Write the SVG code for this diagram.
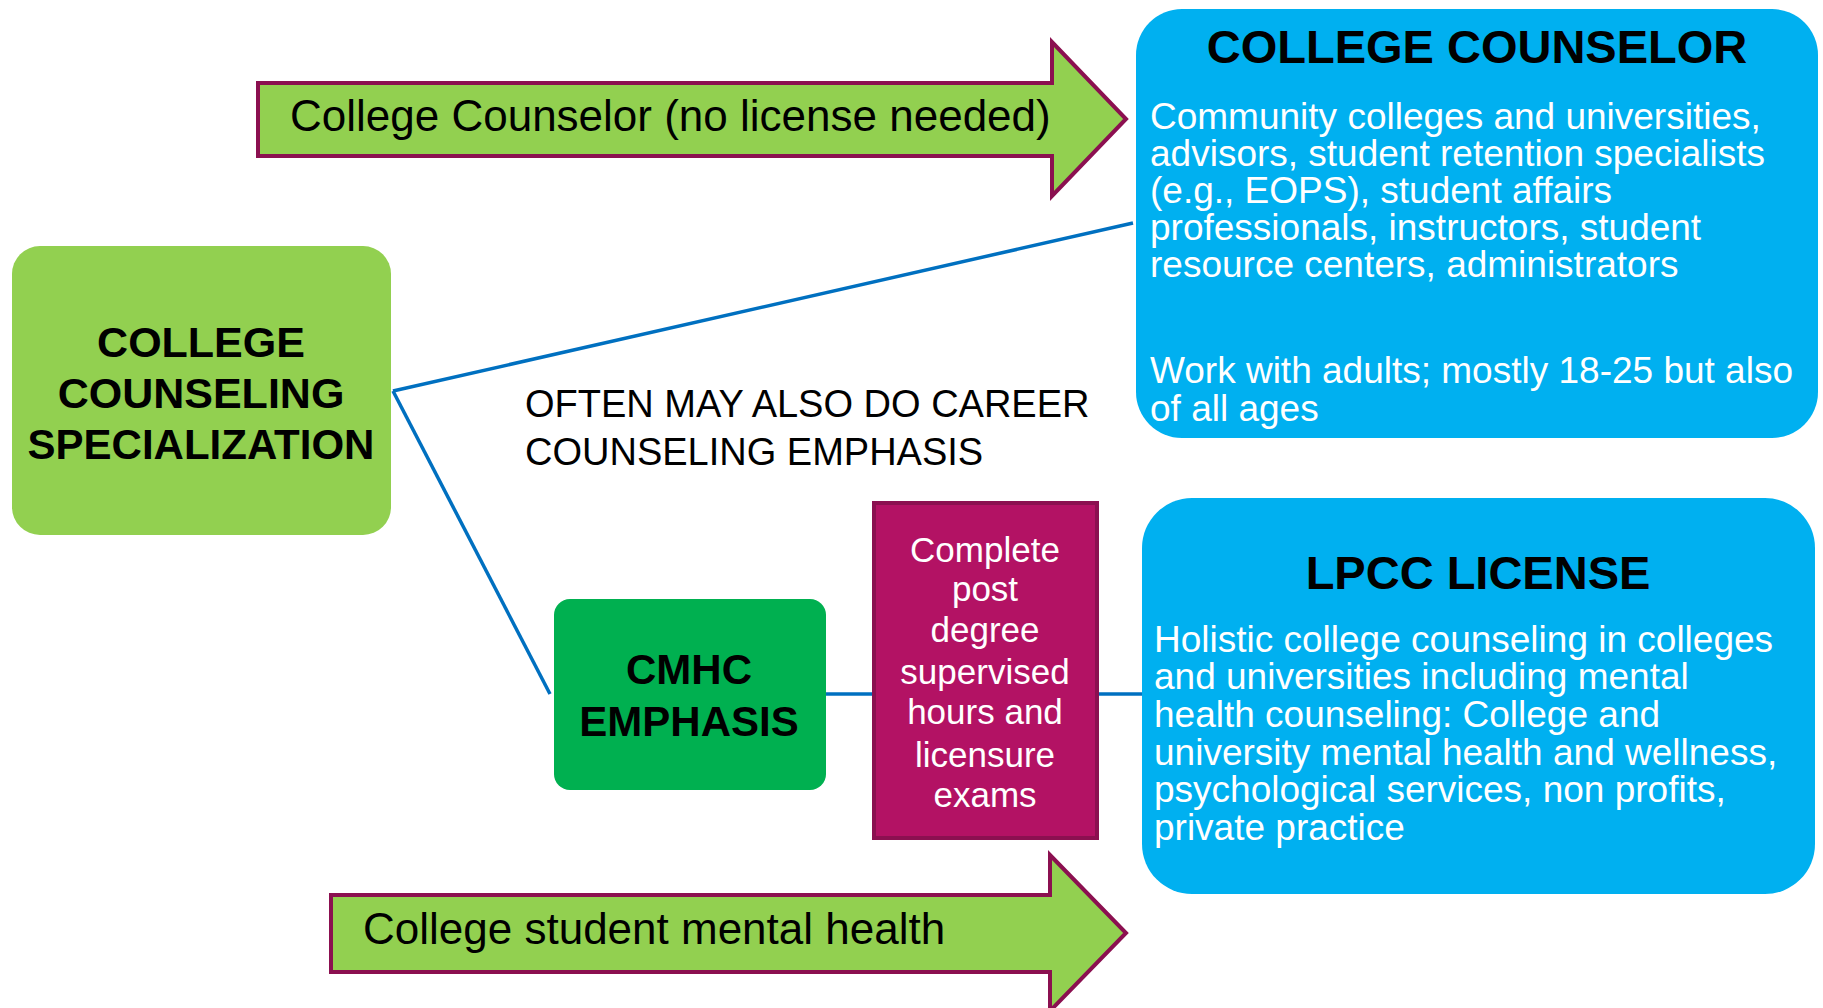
<svg xmlns="http://www.w3.org/2000/svg" width="1823" height="1008" viewBox="0 0 1823 1008">
<style>
  text { font-family: "Liberation Sans", Arial, sans-serif; }
  .arrow { fill: #92D050; stroke: #8B1050; stroke-width: 4; }
  .conn { stroke: #0070C0; stroke-width: 3.5; fill: none; }
  .blue { fill: #00B0F0; }
  .title { font-weight: bold; fill: #000; text-anchor: middle; }
  .body { fill: #fff; font-size: 37px; }
  .arrtxt { fill: #000; font-size: 44px; }
  .white { fill: #fff; font-size: 35px; text-anchor: middle; }
</style>
<rect width="1823" height="1008" fill="#fff"/>
<g id="connectors">
  <line class="conn" x1="393" y1="391" x2="1133" y2="223"/>
  <line class="conn" x1="393" y1="391" x2="550" y2="694"/>
  <line class="conn" x1="825" y1="694" x2="874" y2="694"/>
  <line class="conn" x1="1097" y1="694" x2="1143" y2="694"/>
</g>
<g id="arrow-top">
  <polygon class="arrow" points="258,83 1052,83 1052,42 1126,119 1052,196 1052,156 258,156"/>
  <text class="arrtxt" x="290" y="131">College Counselor (no license needed)</text>
</g>
<g id="arrow-bottom">
  <polygon class="arrow" points="331,895 1050,895 1050,855 1126,933 1050,1011 1050,972 331,972"/>
  <text class="arrtxt" x="363" y="944">College student mental health</text>
</g>
<g id="college-counselor">
  <rect class="blue" x="1136" y="9" width="682" height="429" rx="46"/>
  <text class="title" x="1477" y="63" font-size="47">COLLEGE COUNSELOR</text>
  <text class="body" x="1150" y="129">Community colleges and universities,</text>
  <text class="body" x="1150" y="166">advisors, student retention specialists</text>
  <text class="body" x="1150" y="203">(e.g., EOPS), student affairs</text>
  <text class="body" x="1150" y="240">professionals, instructors, student</text>
  <text class="body" x="1150" y="277">resource centers, administrators</text>
  <text class="body" x="1150" y="383">Work with adults; mostly 18-25 but also</text>
  <text class="body" x="1150" y="421">of all ages</text>
</g>
<g id="specialization">
  <rect x="12" y="246" width="379" height="289" rx="28" fill="#92D050"/>
  <text class="title" x="201" y="357" font-size="43">COLLEGE</text>
  <text class="title" x="201" y="408" font-size="43">COUNSELING</text>
  <text class="title" x="201" y="459" font-size="42">SPECIALIZATION</text>
</g>
<g id="career-note">
  <text x="525" y="417" font-size="38" fill="#000">OFTEN MAY ALSO DO CAREER</text>
  <text x="525" y="465" font-size="38" fill="#000">COUNSELING EMPHASIS</text>
</g>
<g id="cmhc">
  <rect x="554" y="599" width="272" height="191" rx="16" fill="#00B050"/>
  <text class="title" x="689" y="684" font-size="42">CMHC</text>
  <text class="title" x="689" y="736" font-size="42">EMPHASIS</text>
</g>
<g id="post-degree">
  <rect x="874" y="503" width="223" height="335" fill="#B31264" stroke="#8B1050" stroke-width="4"/>
  <text class="white" x="985" y="562">Complete</text>
  <text class="white" x="985" y="601">post</text>
  <text class="white" x="985" y="642">degree</text>
  <text class="white" x="985" y="684">supervised</text>
  <text class="white" x="985" y="724">hours and</text>
  <text class="white" x="985" y="767">licensure</text>
  <text class="white" x="985" y="807">exams</text>
</g>
<g id="lpcc">
  <rect class="blue" x="1142" y="498" width="673" height="396" rx="50"/>
  <text class="title" x="1478" y="589" font-size="47">LPCC LICENSE</text>
  <text class="body" x="1154" y="652">Holistic college counseling in colleges</text>
  <text class="body" x="1154" y="689">and universities including mental</text>
  <text class="body" x="1154" y="727">health counseling: College and</text>
  <text class="body" x="1154" y="765">university mental health and wellness,</text>
  <text class="body" x="1154" y="802">psychological services, non profits,</text>
  <text class="body" x="1154" y="840">private practice</text>
</g>
</svg>
